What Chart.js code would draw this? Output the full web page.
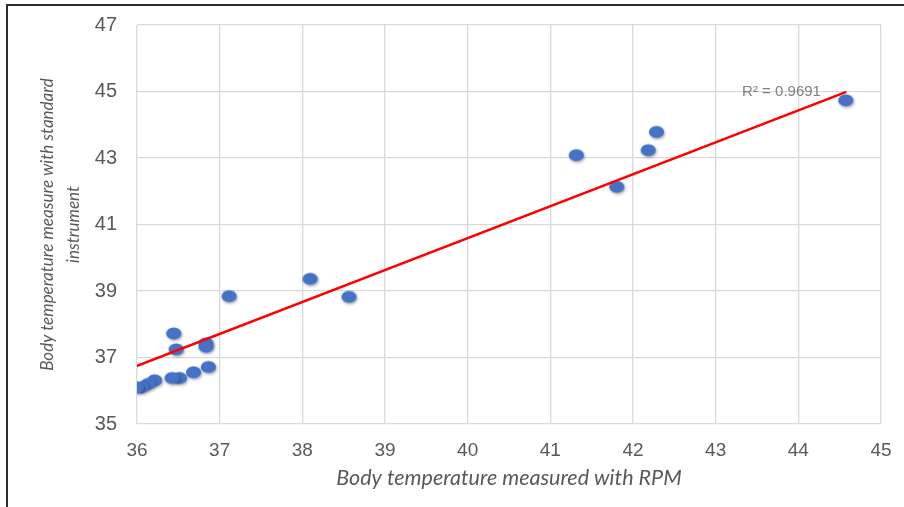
<!DOCTYPE html>
<html>
<head>
<meta charset="utf-8">
<script src="https://cdn.jsdelivr.net/npm/chart.js@4/dist/chart.umd.min.js"></script>
<style>
  html, body { margin: 0; padding: 0; background: #fff; }
  #wrap { width: 904px; height: 507px; }
</style>
</head>
<body>
<div id="wrap"><canvas id="c" width="904" height="507"></canvas></div>
<script>
// readings: RPM (x) vs standard instrument (y)
const rpmTemps = [44.58, 42.29, 42.19, 41.32, 41.81, 38.10, 38.57, 37.12, 36.45, 36.48,
  36.84, 36.84, 36.87, 36.69, 36.52, 36.43, 36.22, 36.14, 36.06, 36.00];
const stdTemps = [44.72, 43.77, 43.22, 43.07, 42.12, 39.35, 38.81, 38.83, 37.71, 37.23,
  37.41, 37.31, 36.70, 36.54, 36.37, 36.37, 36.30, 36.19, 36.09, 36.09];

// linear trendline end points
const trendX = [35.99, 44.58];
const trendY = [36.74, 44.99];
const rSquared = '0.9691';

const xTicks = [36, 37, 38, 39, 40, 41, 42, 43, 44, 45];
const yTicks = [35, 37, 39, 41, 43, 45, 47];

// Excel-ish oval marker
const dot = document.createElement('canvas');
dot.width = 26; dot.height = 22;
(() => {
  const g = dot.getContext('2d');
  g.shadowColor = 'rgba(0,0,0,0.35)';
  g.shadowBlur = 3;
  g.shadowOffsetX = 1;
  g.shadowOffsetY = 1.5;
  g.fillStyle = '#4472C4';
  g.beginPath();
  g.ellipse(12.5, 10.5, 7.6, 6, 0, 0, Math.PI * 2);
  g.fill();
})();

const points = rpmTemps.map((x, i) => ({ x, y: stdTemps[i] }));
const trend = trendX.map((x, i) => ({ x, y: trendY[i] }));

const frame = {
  id: 'frame',
  afterDraw(chart) {
    const { ctx, scales } = chart;
    ctx.save();
    ctx.strokeStyle = '#2b2b2b';
    ctx.lineWidth = 2;
    ctx.beginPath();
    ctx.moveTo(7, 507);
    ctx.lineTo(7, 5);
    ctx.lineTo(904, 5);
    ctx.stroke();
    // R² label
    ctx.fillStyle = '#7f7f7f';
    ctx.font = '15px "Liberation Sans", Arial, sans-serif';
    ctx.textBaseline = 'middle';
    ctx.textAlign = 'left';
    ctx.fillText('R² = ' + rSquared, scales.x.getPixelForValue(43.32), scales.y.getPixelForValue(44.98));
    ctx.restore();
  }
};

new Chart(document.getElementById('c'), {
  type: 'scatter',
  data: {
    datasets: [
      { data: points, pointStyle: dot, pointRadius: 8, pointHoverRadius: 8, order: 2 },
      { type: 'line', data: trend, borderColor: '#ff0000', borderWidth: 2.5, pointRadius: 0, fill: false, order: 1 }
    ]
  },
  options: {
    responsive: false,
    animation: false,
    events: [],
    layout: { padding: { left: 0, top: 25, right: 23, bottom: 0 } },
    plugins: { legend: { display: false }, tooltip: { enabled: false } },
    scales: {
      x: {
        type: 'linear', min: 36, max: 45,
        afterBuildTicks: (s) => { s.ticks = xTicks.map((v) => ({ value: v })); },
        afterFit: (s) => { s.height = 83; s.paddingLeft = 0; s.paddingRight = 0; },
        grid: { color: '#d9d9d9', lineWidth: 1.3, drawTicks: false },
        border: { display: false },
        ticks: { padding: 15, color: '#595959', font: { family: '"Liberation Sans", Arial, sans-serif', size: 19 }, maxRotation: 0 },
        title: {
          display: true, text: 'Body temperature measured with RPM', color: '#595959',
          font: { family: 'Lato, "Open Sans", sans-serif', size: 21.5, style: 'italic' },
          padding: { bottom: 16 }
        }
      },
      y: {
        type: 'linear', min: 35, max: 47,
        afterBuildTicks: (s) => { s.ticks = yTicks.map((v) => ({ value: v })); },
        afterFit: (s) => { s.width = 137; s.paddingTop = 0; s.paddingBottom = 0; },
        grid: { color: '#d9d9d9', lineWidth: 1.3, drawTicks: false },
        border: { display: false },
        ticks: { padding: 20, color: '#595959', font: { family: '"Liberation Sans", Arial, sans-serif', size: 20 } },
        title: {
          display: true, text: ['Body temperature measure with standard', 'instrument'], color: '#595959',
          font: { family: 'Lato, "Open Sans", sans-serif', size: 17, style: 'italic', lineHeight: 1.55 },
          padding: { top: 34 }
        }
      }
    }
  },
  plugins: [frame]
});
</script>
</body>
</html>
